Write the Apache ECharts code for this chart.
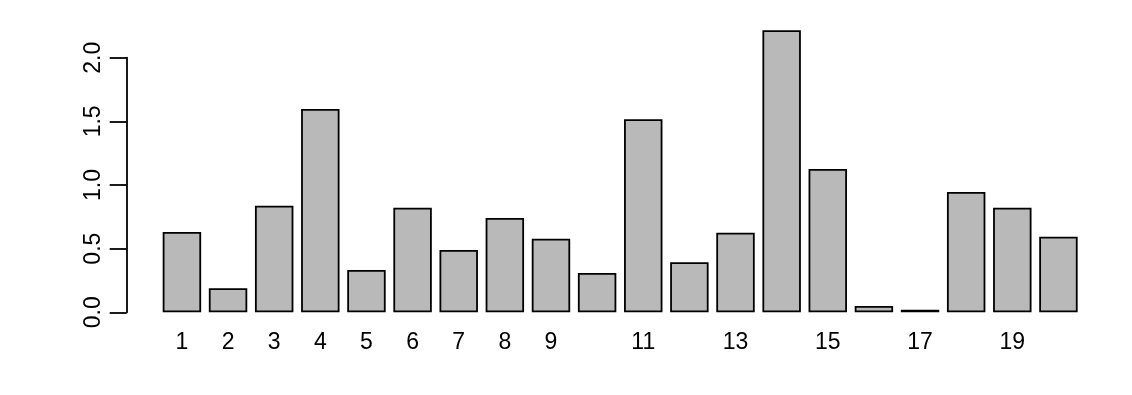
<!DOCTYPE html>
<html>
<head>
<meta charset="utf-8">
<script src="https://cdn.jsdelivr.net/npm/echarts@6/dist/echarts.min.js"></script>
<style>
html,body{margin:0;padding:0;background:#fff;}
#chart{width:1132px;height:395px;}
</style>
</head>
<body>
<div id="chart"></div>
<script>
const categories = ['1','2','3','4','5','6','7','8','9','10','11','12','13','14','15','16','17','18','19','20'];
const values = [0.631,0.189,0.838,1.598,0.333,0.822,0.490,0.741,0.579,0.309,1.517,0.393,0.626,2.217,1.127,0.050,0.020,0.946,0.822,0.594];
const shownXLabels = ['1','2','3','4','5','6','7','8','9','11','13','15','17','19'];
const yTicks = [0, 0.5, 1.0, 1.5, 2.0];

const font = 'Liberation Sans, Arial, Helvetica, sans-serif';
const chart = echarts.init(document.getElementById('chart'), null, {renderer:'canvas'});
chart.setOption({
  animation: false,
  backgroundColor: '#ffffff',
  grid: [
    {left: 158.85, right: 50.5, top: 7.0, bottom: 82.7, containLabel: false},
    {left: 126.7, width: 1, top: 57.7, bottom: 82.7, containLabel: false}
  ],
  xAxis: [
    {
      type: 'category', gridIndex: 0, data: categories,
      axisLine: {show: false}, axisTick: {show: false},
      axisLabel: {
        interval: (idx, val) => shownXLabels.includes(val),
        margin: 19, fontSize: 23, color: '#000', fontFamily: font
      },
      splitLine: {show: false}
    },
    {type: 'value', gridIndex: 1, show: false}
  ],
  yAxis: [
    {type: 'value', gridIndex: 0, min: 0, max: 2.4, show: false, splitLine: {show: false}},
    {
      type: 'value', gridIndex: 1, min: yTicks[0], max: yTicks[yTicks.length-1], interval: 0.5,
      position: 'left',
      axisLine: {show: true, lineStyle: {color: '#000', width: 1.8}},
      axisTick: {show: true, length: 17, lineStyle: {color: '#000', width: 1.8}},
      axisLabel: {
        rotate: 90, margin: 22, fontSize: 23, color: '#000', fontFamily: font,
        formatter: v => v.toFixed(1)
      },
      splitLine: {show: false}
    }
  ],
  series: [{
    type: 'bar', xAxisIndex: 0, yAxisIndex: 0,
    data: values,
    barCategoryGap: '16.67%',
    itemStyle: {color: '#b9b9b9', borderColor: '#000', borderWidth: 1.8},
    silent: true
  }]
});
</script>
</body>
</html>
